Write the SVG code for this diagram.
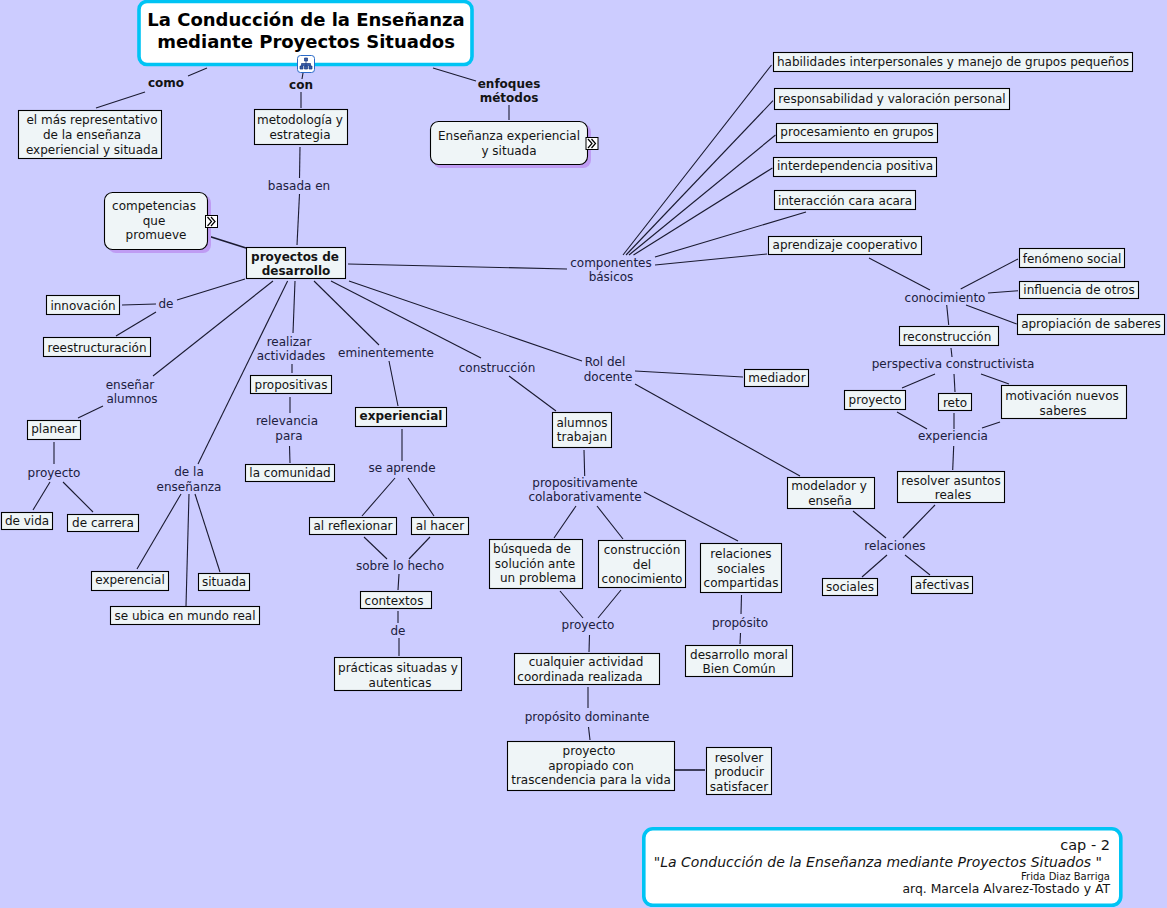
<svg xmlns="http://www.w3.org/2000/svg" width="1167" height="908" viewBox="0 0 1167 908">
<style>
text{font-family:Verdana,"DejaVu Sans",sans-serif;font-size:12px;fill:#141414;text-anchor:middle}
.l{fill:#20203e}
.b{font-weight:bold}
.n{fill:#eff5f7;stroke:#000;stroke-width:1.1}
.s{fill:#bf9cf3}
.c line{stroke:#1a1a30;stroke-width:1.1}
.m{fill:#fff;stroke:#00c4f4;stroke-width:3.6}
.ic{fill:#fff;stroke:#000;stroke-width:1}
.ch{fill:none;stroke:#000;stroke-width:1.2}
.t{font-size:18px;font-weight:bold;fill:#000}
.e{text-anchor:end}
</style>
<defs>
<g id="more"><rect class="ic" x="0.5" y="0.5" width="12" height="12"/><path class="ch" d="M2.500 2l4 4.500l-4 4.500M6 2l4 4.500l-4 4.500"/></g>
</defs>
<rect width="1167" height="908" fill="#ccccff"/>
<g id="connectors" class="c">
<line x1="207" y1="68" x2="188" y2="76"/><line x1="145" y1="92" x2="96" y2="108"/>
<line x1="303" y1="73" x2="302" y2="79"/><line x1="301" y1="92" x2="301" y2="108"/>
<line x1="433" y1="68" x2="476" y2="81"/><line x1="509" y1="105" x2="509" y2="120"/>
<line x1="300" y1="147" x2="299.500" y2="178"/><line x1="299.500" y1="194" x2="297" y2="245"/>
<line x1="205" y1="235" x2="246" y2="248" style="stroke-width:1.6"/>
<line x1="348" y1="264" x2="567" y2="269"/>
<line x1="623" y1="255" x2="771.500" y2="65"/><line x1="626" y1="255" x2="773" y2="100.700"/>
<line x1="629" y1="255" x2="775.500" y2="135"/><line x1="633.500" y1="255" x2="772.400" y2="168"/>
<line x1="655" y1="257" x2="806" y2="212"/><line x1="655" y1="265" x2="767" y2="254"/>
<line x1="869" y1="258" x2="930" y2="290"/><line x1="960.700" y1="289" x2="1018" y2="259"/>
<line x1="988" y1="293" x2="1018" y2="290.700"/><line x1="966" y1="305" x2="1016.700" y2="324"/>
<line x1="946.700" y1="305" x2="948.700" y2="325"/><line x1="951" y1="348" x2="952" y2="357"/>
<line x1="935" y1="374" x2="902" y2="388"/><line x1="954" y1="374" x2="955" y2="392"/>
<line x1="981" y1="374" x2="1009" y2="384"/><line x1="897" y1="412" x2="927" y2="429"/>
<line x1="954" y1="413" x2="954" y2="429"/><line x1="1000" y1="422" x2="982" y2="428"/>
<line x1="953.700" y1="446" x2="952.700" y2="470"/><line x1="935" y1="505" x2="903" y2="538"/>
<line x1="853" y1="511" x2="886" y2="538"/><line x1="887" y1="555" x2="862" y2="577"/>
<line x1="905" y1="555" x2="930" y2="575"/>
<line x1="349" y1="281" x2="582" y2="361"/><line x1="635" y1="371" x2="743" y2="377"/>
<line x1="635" y1="384" x2="800" y2="476"/>
<line x1="331" y1="281" x2="481" y2="358"/><line x1="509" y1="376" x2="556" y2="411"/>
<line x1="584" y1="450" x2="584.700" y2="476"/><line x1="576" y1="506" x2="554" y2="538"/>
<line x1="597" y1="506" x2="623" y2="539"/><line x1="644" y1="492" x2="738" y2="541"/>
<line x1="560" y1="591" x2="583" y2="618"/><line x1="621" y1="590" x2="598" y2="618"/>
<line x1="589.500" y1="635" x2="589" y2="652"/><line x1="741.500" y1="595" x2="741" y2="614"/>
<line x1="740.500" y1="633" x2="740" y2="644"/><line x1="588" y1="687" x2="588" y2="708"/>
<line x1="588.500" y1="727" x2="590" y2="740"/><line x1="675" y1="770" x2="705" y2="770" style="stroke-width:1.6"/>
<line x1="314" y1="281" x2="379" y2="345"/><line x1="389" y1="361" x2="398" y2="406"/>
<line x1="402" y1="429" x2="402" y2="461"/><line x1="395" y1="478" x2="362" y2="516"/>
<line x1="408" y1="478" x2="434" y2="516"/><line x1="364" y1="537" x2="387" y2="559"/>
<line x1="430" y1="537" x2="409" y2="559"/><line x1="399" y1="574" x2="398" y2="590"/>
<line x1="398" y1="611" x2="398" y2="623"/><line x1="399" y1="638" x2="399" y2="656"/>
<line x1="295" y1="281" x2="293" y2="333"/><line x1="292" y1="364" x2="292" y2="373"/>
<line x1="290" y1="397" x2="290" y2="413"/><line x1="289.500" y1="446" x2="290" y2="463"/>
<line x1="287.600" y1="281" x2="198" y2="464"/><line x1="181" y1="494" x2="137" y2="569"/>
<line x1="189" y1="494" x2="186" y2="606"/><line x1="195" y1="494" x2="220" y2="572"/>
<line x1="273" y1="281" x2="153" y2="376"/><line x1="103" y1="406" x2="78" y2="418"/>
<line x1="54" y1="442" x2="54" y2="464"/><line x1="50" y1="482" x2="33" y2="510"/>
<line x1="63" y1="482" x2="93" y2="512"/>
<line x1="245" y1="279" x2="177" y2="300"/><line x1="122" y1="305" x2="156" y2="304"/>
<line x1="156" y1="312" x2="116" y2="336"/>
</g>
<g id="title"><rect class="m" x="139" y="1.500" width="333" height="63" rx="8"/>
<text x="306" y="26" class="t">La Conducción de la Enseñanza</text>
<text x="306" y="48" class="t">mediante Proyectos Situados</text></g>
<g id="icon-tree"><rect x="297.500" y="55.500" width="17" height="17" rx="3" fill="#fff" stroke="#2a6ac8" stroke-width="1"/>
<path d="M304.500 58h3v3h-3zM300 66h3v3h-3zM304.500 66h3v3h-3zM309 66h3v3h-3zM306 61v5M301.500 66v-2.500h9v2.500" fill="#3a5ea8" stroke="#1c3a80" stroke-width=".7"/></g>
<g id="n-como"><text x="166" y="87" class="b">como</text></g>
<g id="n-con"><text x="301" y="89" class="b">con</text></g>
<g id="n-enfoques"><text x="509" y="88" class="b">enfoques</text><text x="509" y="102" class="b">métodos</text></g>
<g id="n-rep"><rect class="n" x="18.500" y="110.500" width="143" height="48"/><text x="92" y="124">el más representativo</text><text x="92" y="139">de la enseñanza</text><text x="92" y="154">experiencial y situada</text></g>
<g id="n-metodologia"><rect class="n" x="254.500" y="109.500" width="93" height="35"/><text x="300" y="124">metodología y</text><text x="300" y="139">estrategia</text></g>
<g id="n-ensenanza"><rect class="s" x="433" y="124" width="158" height="44" rx="8"/><rect class="n" x="430.500" y="121.500" width="157" height="43" rx="8"/><text x="509" y="140">Enseñanza experiencial</text><text x="509" y="155">y situada</text><use href="#more" x="585.500" y="137"/></g>
<g id="n-basada"><text x="299" y="190" class="l">basada en</text></g>
<g id="n-competencias"><rect class="s" x="108" y="195" width="103" height="58" rx="8"/><rect class="n" x="104.500" y="192.500" width="103" height="57" rx="8"/><text x="154" y="210">competencias</text><text x="154" y="225">que</text><text x="156" y="239">promueve</text><use href="#more" x="205" y="215"/></g>
<g id="n-proyectos"><rect class="n" x="246.500" y="247.500" width="99" height="31"/><text x="295" y="261" class="b">proyectos de</text><text x="296" y="275" class="b">desarrollo</text></g>
<g id="n-componentes"><text x="611" y="267" class="l">componentes</text><text x="611" y="281" class="l">básicos</text></g>
<g id="n-hab"><rect class="n" x="773.500" y="52.500" width="359" height="19"/><text x="953" y="66">habilidades interpersonales y manejo de grupos pequeños</text></g>
<g id="n-resp"><rect class="n" x="774.500" y="88.500" width="235" height="21"/><text x="892" y="103">responsabilidad y valoración personal</text></g>
<g id="n-proc"><rect class="n" x="776.500" y="123.500" width="161" height="19"/><text x="857" y="136">procesamiento en grupos</text></g>
<g id="n-inter"><rect class="n" x="773.500" y="157.500" width="163" height="19"/><text x="855" y="170">interdependencia positiva</text></g>
<g id="n-cara"><rect class="n" x="774.500" y="190.500" width="141" height="19"/><text x="845" y="205">interacción cara acara</text></g>
<g id="n-aprendizaje"><rect class="n" x="768.500" y="236.500" width="153" height="18"/><text x="845" y="249">aprendizaje cooperativo</text></g>
<g id="n-conocimiento"><text x="945" y="302" class="l">conocimiento</text></g>
<g id="n-fenomeno"><rect class="n" x="1019.500" y="248.500" width="105" height="19"/><text x="1072" y="263">fenómeno social</text></g>
<g id="n-influencia"><rect class="n" x="1019.500" y="281.500" width="119" height="17"/><text x="1079" y="294">influencia de otros</text></g>
<g id="n-apropiacion"><rect class="n" x="1017.500" y="314.500" width="147" height="20"/><text x="1091" y="328">apropiación de saberes</text></g>
<g id="n-reconstruccion"><rect class="n" x="899.500" y="326.500" width="99" height="19"/><text x="947" y="341">reconstrucción</text></g>
<g id="n-perspectiva"><text x="953" y="368" class="l">perspectiva constructivista</text></g>
<g id="n-proyecto-r"><rect class="n" x="844.500" y="390.500" width="61" height="19"/><text x="875" y="404">proyecto</text></g>
<g id="n-reto"><rect class="n" x="938.500" y="393.500" width="33" height="17"/><text x="955" y="407">reto</text></g>
<g id="n-motivacion"><rect class="n" x="1001.500" y="385.500" width="125" height="33"/><text x="1062" y="400">motivación nuevos</text><text x="1063" y="415">saberes</text></g>
<g id="n-experiencia"><text x="953" y="440" class="l">experiencia</text></g>
<g id="n-resolver-a"><rect class="n" x="897.500" y="471.500" width="107" height="31"/><text x="951" y="485">resolver asuntos</text><text x="953" y="499">reales</text></g>
<g id="n-modelador"><rect class="n" x="787.500" y="477.500" width="87" height="31"/><text x="829" y="490">modelador y</text><text x="830" y="505">enseña</text></g>
<g id="n-relaciones-r"><text x="895" y="550" class="l">relaciones</text></g>
<g id="n-sociales"><rect class="n" x="822.500" y="578.500" width="55" height="17"/><text x="850" y="591">sociales</text></g>
<g id="n-afectivas"><rect class="n" x="911.500" y="576.500" width="61" height="17"/><text x="942" y="589">afectivas</text></g>
<g id="n-mediador"><rect class="n" x="744.500" y="369.500" width="64" height="17"/><text x="777" y="382">mediador</text></g>
<g id="n-rol"><text x="605" y="366" class="l">Rol del</text><text x="608" y="381" class="l">docente</text></g>
<g id="n-de"><text x="166" y="308" class="l">de</text></g>
<g id="n-innovacion"><rect class="n" x="46.500" y="295.500" width="73" height="19"/><text x="83" y="310">innovación</text></g>
<g id="n-reestr"><rect class="n" x="43.500" y="337.500" width="107" height="19"/><text x="97" y="352">reestructuración</text></g>
<g id="n-ensenar"><text x="130" y="389" class="l">enseñar</text><text x="132" y="403" class="l">alumnos</text></g>
<g id="n-planear"><rect class="n" x="27.500" y="420.500" width="53" height="19"/><text x="54" y="433">planear</text></g>
<g id="n-proyecto-l"><text x="54" y="477" class="l">proyecto</text></g>
<g id="n-vida"><rect class="n" x="1.500" y="512.500" width="51" height="17"/><text x="27" y="525">de vida</text></g>
<g id="n-carrera"><rect class="n" x="67.500" y="514.500" width="71" height="17"/><text x="103" y="527">de carrera</text></g>
<g id="n-dela"><text x="189" y="476" class="l">de la</text><text x="189" y="491" class="l">enseñanza</text></g>
<g id="n-experencial"><rect class="n" x="91.500" y="571.500" width="77" height="19"/><text x="130" y="584">experencial</text></g>
<g id="n-situada"><rect class="n" x="198.500" y="573.500" width="51" height="17"/><text x="224" y="586">situada</text></g>
<g id="n-ubica"><rect class="n" x="110.500" y="606.500" width="149" height="18"/><text x="185" y="620">se ubica en mundo real</text></g>
<g id="n-realizar"><text x="289" y="346" class="l">realizar</text><text x="291" y="360" class="l">actividades</text></g>
<g id="n-propositivas"><rect class="n" x="250.500" y="375.500" width="81" height="18"/><text x="291" y="389">propositivas</text></g>
<g id="n-relevancia"><text x="287" y="425" class="l">relevancia</text><text x="289" y="440" class="l">para</text></g>
<g id="n-comunidad"><rect class="n" x="245.500" y="464.500" width="89" height="17"/><text x="290" y="477">la comunidad</text></g>
<g id="n-eminente"><text x="386" y="357" class="l">eminentemente</text></g>
<g id="n-experiencial"><rect class="n" x="355.500" y="407.500" width="91" height="19"/><text x="401" y="420" class="b">experiencial</text></g>
<g id="n-aprende"><text x="402" y="472" class="l">se aprende</text></g>
<g id="n-reflexionar"><rect class="n" x="309.500" y="517.500" width="87" height="17"/><text x="353" y="530">al reflexionar</text></g>
<g id="n-hacer"><rect class="n" x="411.500" y="517.500" width="57" height="17"/><text x="440" y="530">al hacer</text></g>
<g id="n-sobre"><text x="400" y="570" class="l">sobre lo hecho</text></g>
<g id="n-contextos"><rect class="n" x="360.500" y="591.500" width="71" height="17"/><text x="394" y="605">contextos</text></g>
<g id="n-de2"><text x="398" y="635" class="l">de</text></g>
<g id="n-practicas"><rect class="n" x="334.500" y="657.500" width="127" height="33"/><text x="398" y="672">prácticas situadas y</text><text x="400" y="687">autenticas</text></g>
<g id="n-construccion"><text x="497" y="372" class="l">construcción</text></g>
<g id="n-alumnos"><rect class="n" x="552.500" y="412.500" width="59" height="35"/><text x="582" y="427">alumnos</text><text x="582" y="441">trabajan</text></g>
<g id="n-prop"><text x="585" y="487" class="l">propositivamente</text><text x="585" y="501" class="l">colaborativamente</text></g>
<g id="n-busqueda"><rect class="n" x="489.500" y="539.500" width="93" height="49"/><text x="532" y="553">búsqueda de</text><text x="535" y="568">solución ante</text><text x="538" y="582">un problema</text></g>
<g id="n-constr"><rect class="n" x="598.500" y="540.500" width="87" height="47"/><text x="642" y="554">construcción</text><text x="642" y="569">del</text><text x="642" y="583">conocimiento</text></g>
<g id="n-relaciones"><rect class="n" x="700.500" y="543.500" width="81" height="49"/><text x="741" y="558">relaciones</text><text x="741" y="573">sociales</text><text x="741" y="587">compartidas</text></g>
<g id="n-proyecto-c"><text x="588" y="629" class="l">proyecto</text></g>
<g id="n-proposito"><text x="740" y="627" class="l">propósito</text></g>
<g id="n-desarrollo"><rect class="n" x="685.500" y="645.500" width="107" height="31"/><text x="739" y="659">desarrollo moral</text><text x="739" y="673">Bien Común</text></g>
<g id="n-cualquier"><rect class="n" x="514.500" y="653.500" width="145" height="31"/><text x="586" y="666">cualquier actividad</text><text x="580" y="681">coordinada realizada</text></g>
<g id="n-dominante"><text x="587" y="721" class="l">propósito dominante</text></g>
<g id="n-apropiado"><rect class="n" x="507.500" y="741.500" width="167" height="49"/><text x="589" y="755">proyecto</text><text x="591" y="770">apropiado con</text><text x="591" y="784">trascendencia para la vida</text></g>
<g id="n-resolver"><rect class="n" x="706.500" y="747.500" width="65" height="47"/><text x="739" y="762">resolver</text><text x="739" y="776">producir</text><text x="739" y="791">satisfacer</text></g>
<g id="footer"><rect class="m" x="643.800" y="828.800" width="477" height="76.500" rx="9"/>
<text x="1110" y="850" class="e" style="font-size:14.500px">cap - 2</text>
<text x="1102" y="866.500" class="e" style="font-size:14px;font-style:italic">"La Conducción de la Enseñanza mediante Proyectos Situados "</text>
<text x="1110" y="880" class="e" style="font-size:10px">Frida Diaz Barriga</text>
<text x="1110" y="893" class="e" style="font-size:12.400px">arq. Marcela Alvarez-Tostado y AT</text></g>
</svg>
